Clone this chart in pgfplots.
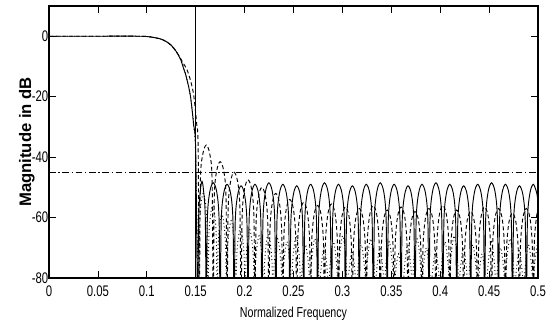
\documentclass[border=0pt]{standalone}
\usepackage{fontspec}
\setmainfont{Liberation Sans}[FakeStretch=0.74]
\newfontfamily\ylabfont{Liberation Sans}
\usepackage{pgfplots}
\pgfplotsset{compat=1.18}
\begin{document}
\begin{tikzpicture}
\begin{axis}[
  scale only axis,
  width=366.75pt, height=204pt,
  xmin=0, xmax=0.5, ymin=-80, ymax=10,
  xtick={0,0.05,0.1,0.15,0.2,0.25,0.3,0.35,0.4,0.45,0.5},
  xticklabels={0,0.05,0.1,0.15,0.2,0.25,0.3,0.35,0.4,0.45,0.5},
  ytick={-80,-60,-40,-20,0},
  yticklabels={-80,-60,-40,-20,0},
  tick align=inside,
  major tick length=5pt,
  tick style={black, line width=0.6pt},
  axis line style={line width=0.8pt},
  ticklabel style={font=\fontsize{11.5}{13}\selectfont},
  xticklabel style={yshift=-2pt},
  yticklabel style={xshift=3pt},
  xlabel={Normalized Frequency},
  ylabel={Magnitude in dB},
  xlabel style={font=\fontsize{10.8}{12}\selectfont, yshift=-1pt},
  ylabel style={font=\ylabfont\bfseries\fontsize{12.5}{14}\selectfont, yshift=-9pt},
  every axis plot/.append style={black, line width=0.7pt},
]
% horizontal spec line
\addplot[dash pattern=on 5pt off 2pt on 1pt off 2pt] coordinates {(0,-45) (0.5,-45)};
% vertical stopband edge
\addplot[solid] coordinates {(0.15,-80) (0.15,10)};
% solid response
\addplot[solid, smooth, tension=0.5] coordinates {
(0,0) (0.05,0) (0.09,0) (0.1,-0.1) (0.105,-0.3) (0.11,-0.6) (0.115,-1.0) (0.12,-1.8) (0.125,-3.0) (0.13,-5) (0.135,-8) (0.1376,-10.7) (0.14,-13) (0.1445,-19.6) (0.148,-29.6) (0.150,-38)
(0.1520,-90) (0.1530,-60) (0.1548,-51) (0.1564,-48) (0.1580,-51) (0.1598,-60)
(0.1608,-90) (0.1619,-60.5) (0.1644,-51.5) (0.1679,-48.5) (0.1715,-51.5) (0.1739,-60.5)
(0.1750,-90) (0.1761,-61) (0.1786,-52) (0.1821,-49) (0.1857,-52) (0.1881,-61)
(0.1893,-90) (0.1904,-61.5) (0.1929,-52.5) (0.1964,-49.5) (0.2000,-52.5) (0.2024,-61.5)
(0.2035,-90) (0.2046,-61) (0.2071,-52) (0.2106,-49) (0.2142,-52) (0.2166,-61)
(0.2177,-90) (0.2188,-60.5) (0.2213,-51.5) (0.2248,-48.5) (0.2284,-51.5) (0.2308,-60.5)
(0.2320,-90) (0.2331,-61) (0.2356,-52) (0.2391,-49) (0.2427,-52) (0.2451,-61)
(0.2462,-90) (0.2473,-61.5) (0.2498,-52.5) (0.2533,-49.5) (0.2569,-52.5) (0.2593,-61.5)
(0.2604,-90) (0.2615,-61) (0.2640,-52) (0.2675,-49) (0.2711,-52) (0.2735,-61)
(0.2746,-90) (0.2757,-60.5) (0.2782,-51.5) (0.2817,-48.5) (0.2853,-51.5) (0.2877,-60.5)
(0.2889,-90) (0.2900,-61) (0.2925,-52) (0.2960,-49) (0.2996,-52) (0.3020,-61)
(0.3031,-90) (0.3042,-61.5) (0.3067,-52.5) (0.3102,-49.5) (0.3138,-52.5) (0.3162,-61.5)
(0.3173,-90) (0.3184,-61) (0.3209,-52) (0.3244,-49) (0.3280,-52) (0.3304,-61)
(0.3316,-90) (0.3327,-60.5) (0.3352,-51.5) (0.3387,-48.5) (0.3423,-51.5) (0.3447,-60.5)
(0.3458,-90) (0.3469,-61) (0.3494,-52) (0.3529,-49) (0.3565,-52) (0.3589,-61)
(0.3600,-90) (0.3611,-61.5) (0.3636,-52.5) (0.3671,-49.5) (0.3707,-52.5) (0.3731,-61.5)
(0.3743,-90) (0.3754,-61) (0.3779,-52) (0.3814,-49) (0.3850,-52) (0.3874,-61)
(0.3885,-90) (0.3896,-60.5) (0.3921,-51.5) (0.3956,-48.5) (0.3992,-51.5) (0.4016,-60.5)
(0.4027,-90) (0.4038,-61) (0.4063,-52) (0.4098,-49) (0.4134,-52) (0.4158,-61)
(0.4169,-90) (0.4180,-61.5) (0.4205,-52.5) (0.4240,-49.5) (0.4276,-52.5) (0.4300,-61.5)
(0.4312,-90) (0.4323,-61) (0.4348,-52) (0.4383,-49) (0.4419,-52) (0.4443,-61)
(0.4454,-90) (0.4465,-60.5) (0.4490,-51.5) (0.4525,-48.5) (0.4561,-51.5) (0.4585,-60.5)
(0.4596,-90) (0.4607,-61) (0.4632,-52) (0.4667,-49) (0.4703,-52) (0.4727,-61)
(0.4739,-90) (0.4750,-61.5) (0.4775,-52.5) (0.4810,-49.5) (0.4846,-52.5) (0.4870,-61.5)
(0.4881,-90) (0.4892,-61) (0.4917,-52) (0.4952,-49) (0.4988,-52) (0.5,-55)
};
% dashed response
\addplot[dash pattern=on 3pt off 2pt, smooth, tension=0.5] coordinates {
(0,0) (0.05,0) (0.09,0) (0.1,-0.1) (0.105,-0.3) (0.11,-0.6) (0.115,-1.0) (0.12,-1.8) (0.125,-3.0) (0.128,-4.2) (0.133,-6.5) (0.137,-8.8) (0.141,-11) (0.145,-15) (0.148,-19.6) (0.151,-29) (0.1525,-37)
(0.1537,-90) (0.1548,-48) (0.1573,-39) (0.1608,-36) (0.1644,-39) (0.1668,-48)
(0.1679,-90) (0.1690,-53.5) (0.1715,-44.5) (0.1750,-41.5) (0.1786,-44.5) (0.1810,-53.5)
(0.1821,-90) (0.1832,-57) (0.1857,-48) (0.1892,-45) (0.1928,-48) (0.1952,-57)
(0.1964,-90) (0.1975,-59.5) (0.2000,-50.5) (0.2035,-47.5) (0.2071,-50.5) (0.2095,-59.5)
(0.2106,-90) (0.2117,-62) (0.2142,-53) (0.2177,-50) (0.2213,-53) (0.2237,-62)
(0.2248,-90) (0.2259,-64) (0.2284,-55) (0.2319,-52) (0.2355,-55) (0.2379,-64)
(0.2391,-90) (0.2402,-66) (0.2427,-57) (0.2462,-54) (0.2498,-57) (0.2522,-66)
(0.2533,-90) (0.2544,-67) (0.2569,-58) (0.2604,-55) (0.2640,-58) (0.2664,-67)
(0.2675,-90) (0.2686,-68) (0.2711,-59) (0.2746,-56) (0.2782,-59) (0.2806,-68)
(0.2817,-90) (0.2828,-67.5) (0.2853,-58.5) (0.2888,-55.5) (0.2924,-58.5) (0.2948,-67.5)
(0.2960,-90) (0.2971,-68.5) (0.2996,-59.5) (0.3031,-56.5) (0.3067,-59.5) (0.3091,-68.5)
(0.3102,-90) (0.3113,-69) (0.3138,-60) (0.3173,-57) (0.3209,-60) (0.3233,-69)
(0.3244,-90) (0.3255,-68) (0.3280,-59) (0.3315,-56) (0.3351,-59) (0.3375,-68)
(0.3387,-90) (0.3398,-69.5) (0.3423,-60.5) (0.3458,-57.5) (0.3494,-60.5) (0.3518,-69.5)
(0.3529,-90) (0.3540,-68.5) (0.3565,-59.5) (0.3600,-56.5) (0.3636,-59.5) (0.3660,-68.5)
(0.3671,-90) (0.3682,-70) (0.3707,-61) (0.3742,-58) (0.3778,-61) (0.3802,-70)
(0.3814,-90) (0.3825,-69) (0.3850,-60) (0.3885,-57) (0.3921,-60) (0.3945,-69)
(0.3956,-90) (0.3967,-68) (0.3992,-59) (0.4027,-56) (0.4063,-59) (0.4087,-68)
(0.4098,-90) (0.4109,-69.5) (0.4134,-60.5) (0.4169,-57.5) (0.4205,-60.5) (0.4229,-69.5)
(0.4240,-90) (0.4251,-70) (0.4276,-61) (0.4311,-58) (0.4347,-61) (0.4371,-70)
(0.4383,-90) (0.4394,-68.5) (0.4419,-59.5) (0.4454,-56.5) (0.4490,-59.5) (0.4514,-68.5)
(0.4525,-90) (0.4536,-69) (0.4561,-60) (0.4596,-57) (0.4632,-60) (0.4656,-69)
(0.4667,-90) (0.4678,-70.5) (0.4703,-61.5) (0.4738,-58.5) (0.4774,-61.5) (0.4798,-70.5)
(0.4810,-90) (0.4821,-69) (0.4846,-60) (0.4881,-57) (0.4917,-60) (0.4941,-69)
(0.4952,-90) (0.4963,-68) (0.4988,-59) (0.5,-57.5)
};
% dotted response
\addplot[dotted, line width=0.7pt, smooth, tension=0.5] coordinates {
(0,0) (0.05,0) (0.09,0) (0.1,-0.1) (0.105,-0.3) (0.11,-0.6) (0.115,-1.0) (0.12,-1.8) (0.125,-3.0) (0.13,-5) (0.135,-8) (0.14,-13) (0.1445,-19.6) (0.148,-29.6) (0.150,-40)
(0.1530,-90) (0.1541,-61) (0.1578,-52) (0.1614,-61)
(0.1625,-90) (0.1636,-65) (0.1673,-56) (0.1709,-65)
(0.1720,-90) (0.1731,-68) (0.1768,-59) (0.1804,-68)
(0.1815,-90) (0.1826,-70) (0.1863,-61) (0.1899,-70)
(0.1910,-90) (0.1921,-72) (0.1958,-63) (0.1994,-72)
(0.2005,-90) (0.2016,-73) (0.2053,-64) (0.2089,-73)
(0.2100,-90) (0.2111,-75) (0.2148,-66) (0.2184,-75)
(0.2195,-90) (0.2206,-74) (0.2243,-65) (0.2279,-74)
(0.2290,-90) (0.2301,-76) (0.2338,-67) (0.2374,-76)
(0.2385,-90) (0.2396,-77) (0.2433,-68) (0.2469,-77)
(0.2480,-90) (0.2491,-75) (0.2528,-66) (0.2564,-75)
(0.2575,-90) (0.2586,-78) (0.2623,-69) (0.2659,-78)
(0.2670,-90) (0.2681,-76) (0.2718,-67) (0.2754,-76)
(0.2765,-90) (0.2776,-79) (0.2813,-70) (0.2849,-79)
(0.2860,-90) (0.2871,-77) (0.2908,-68) (0.2944,-77)
(0.2955,-90) (0.2966,-75) (0.3003,-66) (0.3039,-75)
(0.3050,-90) (0.3061,-80) (0.3098,-71) (0.3134,-80)
(0.3145,-90) (0.3156,-78) (0.3193,-69) (0.3229,-78)
(0.3240,-90) (0.3251,-76) (0.3288,-67) (0.3324,-76)
(0.3335,-90) (0.3346,-79) (0.3383,-70) (0.3419,-79)
(0.3430,-90) (0.3441,-77) (0.3478,-68) (0.3514,-77)
(0.3525,-90) (0.3536,-81) (0.3573,-72) (0.3609,-81)
(0.3620,-90) (0.3631,-78) (0.3668,-69) (0.3704,-78)
(0.3715,-90) (0.3726,-76) (0.3763,-67) (0.3799,-76)
(0.3810,-90) (0.3821,-79) (0.3858,-70) (0.3894,-79)
(0.3905,-90) (0.3916,-80) (0.3953,-71) (0.3989,-80)
(0.4000,-90) (0.4011,-77) (0.4048,-68) (0.4084,-77)
(0.4095,-90) (0.4106,-75) (0.4143,-66) (0.4179,-75)
(0.4190,-90) (0.4201,-79) (0.4238,-70) (0.4274,-79)
(0.4285,-90) (0.4296,-78) (0.4333,-69) (0.4369,-78)
(0.4380,-90) (0.4391,-81) (0.4428,-72) (0.4464,-81)
(0.4475,-90) (0.4486,-77) (0.4523,-68) (0.4559,-77)
(0.4570,-90) (0.4581,-79) (0.4618,-70) (0.4654,-79)
(0.4665,-90) (0.4676,-76) (0.4713,-67) (0.4749,-76)
(0.4760,-90) (0.4771,-80) (0.4808,-71) (0.4844,-80)
(0.4855,-90) (0.4866,-78) (0.4903,-69) (0.4939,-78)
(0.4950,-90) (0.4961,-77) (0.4998,-68) (0.5,-68.5)
};
\end{axis}
\pgfresetboundingbox
\path (current axis.south west) ++(-36.75pt,-38.25pt) rectangle ([shift={(13.5pt,4.5pt)}]current axis.north east);
\end{tikzpicture}
\end{document}
